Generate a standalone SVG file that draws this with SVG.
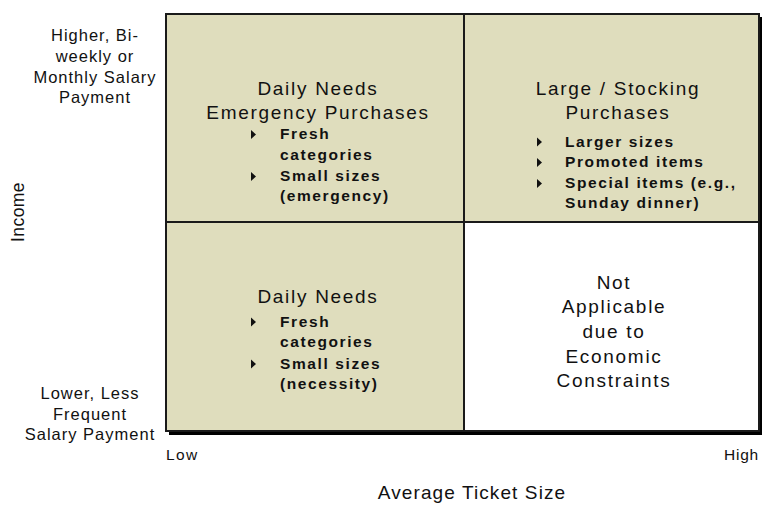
<svg xmlns="http://www.w3.org/2000/svg" width="762" height="506" viewBox="0 0 762 506">
  <defs>
    <style>
      text { font-family: "Liberation Sans", Arial, sans-serif; fill: #111; }
      .axis { font-size: 16.5px; letter-spacing: 1px; text-anchor: middle; }
      .head { font-size: 19px; letter-spacing: 1.7px; text-anchor: middle; }
      .item { font-size: 15.5px; font-weight: bold; letter-spacing: 1.6px; }
      .tick { font-size: 15.5px; letter-spacing: 1.4px; }
      .title { font-size: 19px; letter-spacing: 1.1px; text-anchor: middle; }
      .cell { fill: #dfddbd; }
      .line { stroke: #1a1a1a; stroke-width: 2; fill: none; }
    </style>
    <path id="bullet" d="M0,-4.5 L5,0 L0,4.5 Z" fill="#111"/>
  </defs>

  <rect width="762" height="506" fill="#ffffff"/>

  <!-- quadrant frame with drop shadow -->
  <g id="grid">
    <rect x="169" y="17" width="593" height="418" fill="#000"/>
    <rect class="cell" x="166" y="14" width="298" height="208"/>
    <rect class="cell" x="464" y="14" width="295" height="208"/>
    <rect class="cell" x="166" y="222" width="298" height="209"/>
    <rect x="464" y="222" width="295" height="209" fill="#ffffff"/>
    <rect class="line" x="166" y="14" width="593" height="417" stroke-width="1.6"/>
    <line class="line" x1="464" y1="14" x2="464" y2="431"/>
    <line class="line" x1="166" y1="222" x2="759" y2="222"/>
  </g>

  <!-- top-left: daily needs / emergency -->
  <g id="q-daily-emergency">
    <text class="head" x="318" y="95">Daily Needs</text>
    <text class="head" x="318" y="119">Emergency Purchases</text>
    <use href="#bullet" x="251" y="134.5"/>
    <text class="item" x="280" y="139">Fresh</text>
    <text class="item" x="280" y="160">categories</text>
    <use href="#bullet" x="251" y="176.5"/>
    <text class="item" x="280" y="181">Small sizes</text>
    <text class="item" x="280" y="201">(emergency)</text>
  </g>

  <!-- top-right: large / stocking -->
  <g id="q-large-stocking">
    <text class="head" x="618" y="95">Large / Stocking</text>
    <text class="head" x="618" y="119">Purchases</text>
    <use href="#bullet" x="537" y="142"/>
    <text class="item" x="565" y="147">Larger sizes</text>
    <use href="#bullet" x="537" y="162.5"/>
    <text class="item" x="565" y="167">Promoted items</text>
    <use href="#bullet" x="537" y="183.5"/>
    <text class="item" x="565" y="188">Special items (e.g.,</text>
    <text class="item" x="565" y="208">Sunday dinner)</text>
  </g>

  <!-- bottom-left: daily needs -->
  <g id="q-daily">
    <text class="head" x="318" y="303">Daily Needs</text>
    <use href="#bullet" x="251" y="322"/>
    <text class="item" x="280" y="327">Fresh</text>
    <text class="item" x="280" y="347">categories</text>
    <use href="#bullet" x="251" y="364"/>
    <text class="item" x="280" y="369">Small sizes</text>
    <text class="item" x="280" y="389">(necessity)</text>
  </g>

  <!-- bottom-right: not applicable -->
  <g id="q-not-applicable">
    <text class="head" x="614" y="289">Not</text>
    <text class="head" x="614" y="313">Applicable</text>
    <text class="head" x="614" y="338">due to</text>
    <text class="head" x="614" y="363">Economic</text>
    <text class="head" x="614" y="387">Constraints</text>
  </g>

  <!-- axis labels -->
  <g id="income-high">
    <text class="axis" x="95" y="41">Higher, Bi-</text>
    <text class="axis" x="95" y="62">weekly or</text>
    <text class="axis" x="95" y="83">Monthly Salary</text>
    <text class="axis" x="95" y="103">Payment</text>
  </g>
  <g id="income-low">
    <text class="axis" x="90" y="399">Lower, Less</text>
    <text class="axis" x="90" y="420">Frequent</text>
    <text class="axis" x="90" y="440">Salary Payment</text>
  </g>
  <g id="income-title">
    <text class="title" transform="translate(24,212) rotate(-90)" style="font-size:17.5px;letter-spacing:0.4px">Income</text>
  </g>
  <g id="ticket-low">
    <text class="tick" x="166" y="460">Low</text>
  </g>
  <g id="ticket-high">
    <text class="tick" x="759" y="460" text-anchor="end" style="letter-spacing:0.8px">High</text>
  </g>
  <g id="ticket-title">
    <text class="title" x="472" y="499">Average Ticket Size</text>
  </g>
</svg>
